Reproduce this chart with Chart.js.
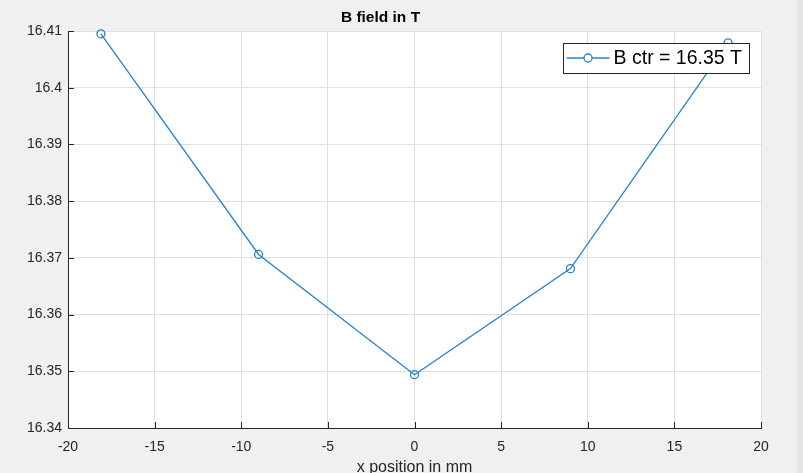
<!DOCTYPE html>
<html>
<head>
<meta charset="utf-8">
<script src="https://cdn.jsdelivr.net/npm/chart.js@4/dist/chart.umd.min.js"></script>
<style>
  html, body { margin: 0; padding: 0; background: #f0f0f0; }
  #wrap { width: 803px; height: 473px; }
</style>
</head>
<body>
<div id="wrap"><canvas id="c" width="803" height="473"></canvas></div>
<script>
const chartTitle = 'B field in T';
const xAxisTitle = 'x position in mm';
const seriesLabel = 'B ctr = 16.35 T';
const xPositions = [-18.1, -9, 0, 9, 18.1];
const bField = [16.4095, 16.3706, 16.3494, 16.3681, 16.4079];
const xTickValues = [-20, -15, -10, -5, 0, 5, 10, 15, 20];
const yTickValues = [16.34, 16.35, 16.36, 16.37, 16.38, 16.39, 16.40, 16.41];

const LINE_COLOR = '#2383cc';
const AXIS_COLOR = '#262626';
const GRID_COLOR = '#dfdfdf';
const FONT = '"Liberation Sans", Arial, Helvetica, sans-serif';

const bgPlugin = {
  id: 'bg',
  beforeDraw(chart) {
    const { ctx, chartArea: a, width, height } = chart;
    ctx.save();
    ctx.fillStyle = '#f0f0f0';
    ctx.fillRect(0, 0, width, height);
    ctx.fillStyle = '#e6e6e6';
    ctx.fillRect(width - 6, 0, 6, height);
    ctx.fillStyle = '#ffffff';
    ctx.fillRect(a.left, a.top, a.right - a.left, a.bottom - a.top);
    ctx.restore();
  }
};

const inwardTicks = {
  id: 'inwardTicks',
  afterDatasetsDraw(chart) {
    const { ctx, chartArea: a, scales } = chart;
    const len = 6;
    ctx.save();
    ctx.strokeStyle = AXIS_COLOR;
    ctx.lineWidth = 1;
    ctx.beginPath();
    scales.x.ticks.forEach(t => {
      const px = Math.round(scales.x.getPixelForValue(t.value)) + 0.5;
      ctx.moveTo(px, a.bottom);
      ctx.lineTo(px, a.bottom - len);
    });
    scales.y.ticks.forEach(t => {
      const py = Math.round(scales.y.getPixelForValue(t.value)) + 0.5;
      ctx.moveTo(a.left, py);
      ctx.lineTo(a.left + len, py);
    });
    ctx.stroke();
    ctx.restore();
  }
};

const boxLegend = {
  id: 'boxLegend',
  afterDraw(chart) {
    const { ctx, chartArea: a } = chart;
    const ds = chart.data.datasets[0];
    ctx.save();
    ctx.font = '19.5px ' + FONT;
    const tw = ctx.measureText(ds.label).width;
    const lineLen = 43;
    const h = 30;
    const w = 4 + lineLen + 4 + tw + 7;
    const right = a.right - 12;
    const left = right - w;
    const top = a.top + 12;
    ctx.fillStyle = '#ffffff';
    ctx.fillRect(left, top, w, h);
    ctx.strokeStyle = AXIS_COLOR;
    ctx.lineWidth = 1;
    ctx.strokeRect(Math.round(left) + 0.5, top + 0.5, Math.round(w), h);
    const cy = top + h / 2;
    ctx.strokeStyle = LINE_COLOR;
    ctx.lineWidth = 1.3;
    ctx.beginPath();
    ctx.moveTo(left + 4, cy);
    ctx.lineTo(left + 4 + lineLen, cy);
    ctx.stroke();
    ctx.beginPath();
    ctx.arc(left + 4 + lineLen / 2, cy, 4, 0, Math.PI * 2);
    ctx.fillStyle = '#ffffff';
    ctx.fill();
    ctx.stroke();
    ctx.fillStyle = '#000000';
    ctx.textBaseline = 'middle';
    ctx.textAlign = 'left';
    ctx.fillText(ds.label, left + 4 + lineLen + 4, cy + 1);
    ctx.restore();
  }
};

new Chart(document.getElementById('c'), {
  type: 'line',
  data: {
    datasets: [{
      label: seriesLabel,
      data: xPositions.map((x, i) => ({ x: x, y: bField[i] })),
      borderColor: LINE_COLOR,
      borderWidth: 1.3,
      backgroundColor: 'rgba(0,0,0,0)',
      pointStyle: 'circle',
      pointRadius: 4,
      pointBorderWidth: 1.3,
      pointBorderColor: LINE_COLOR,
      pointBackgroundColor: 'rgba(0,0,0,0)',
      tension: 0,
      fill: false,
      clip: false
    }]
  },
  options: {
    responsive: false,
    animation: false,
    devicePixelRatio: 1,
    layout: { padding: { left: 0, right: 42, top: 0, bottom: 0 } },
    plugins: {
      legend: { display: false },
      tooltip: { enabled: false },
      title: {
        display: true,
        text: chartTitle,
        color: '#000000',
        font: { family: FONT, size: 15.5, weight: 'bold', lineHeight: 1 },
        padding: { top: 10, bottom: 5.5 }
      }
    },
    scales: {
      x: {
        type: 'linear',
        min: -20, max: 20,
        afterBuildTicks: s => { s.ticks = xTickValues.map(v => ({ value: v })); },
        afterFit: s => { s.height = 45; },
        grid: { color: GRID_COLOR, drawTicks: false, lineWidth: 1 },
        border: { display: true, color: AXIS_COLOR, width: 1 },
        ticks: {
          color: AXIS_COLOR,
          font: { family: FONT, size: 14 },
          padding: 10.5,
          maxRotation: 0,
          callback: v => String(v)
        },
        title: {
          display: true,
          text: xAxisTitle,
          color: AXIS_COLOR,
          font: { family: FONT, size: 16, lineHeight: 1 },
          padding: { top: 0, bottom: -3 }
        }
      },
      y: {
        type: 'linear',
        min: 16.34, max: 16.41,
        afterBuildTicks: s => { s.ticks = yTickValues.map(v => ({ value: v })); },
        afterFit: s => { s.width = 68; },
        grid: { color: GRID_COLOR, drawTicks: false, lineWidth: 1 },
        border: { display: true, color: AXIS_COLOR, width: 1 },
        ticks: {
          color: AXIS_COLOR,
          font: { family: FONT, size: 14 },
          padding: 6,
          callback: v => String(Number(v.toFixed(2)))
        }
      }
    }
  },
  plugins: [bgPlugin, inwardTicks, boxLegend]
});
</script>
</body>
</html>
